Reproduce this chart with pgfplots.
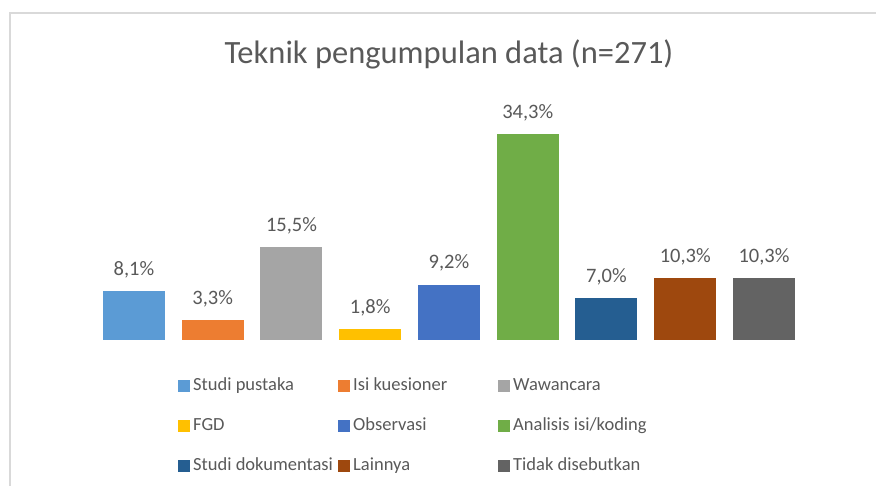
\documentclass[border=0pt]{standalone}
\usepackage{pgfplots}
\pgfplotsset{compat=1.18}
\usepackage{fontspec}
\setmainfont{Carlito}
\definecolor{c1}{HTML}{5B9BD5}
\definecolor{c2}{HTML}{ED7D31}
\definecolor{c3}{HTML}{A5A5A5}
\definecolor{c4}{HTML}{FFC000}
\definecolor{c5}{HTML}{4472C4}
\definecolor{c6}{HTML}{70AD47}
\definecolor{c7}{HTML}{255E91}
\definecolor{c8}{HTML}{9E480E}
\definecolor{c9}{HTML}{636363}
\definecolor{txt}{HTML}{595959}
\definecolor{framec}{HTML}{D9D9D9}
\pgfplotsset{
  sq/.style={fill=#1, draw=none, bar shift=0pt,
    legend image code/.code={\fill[##1] (0pt,-6pt) rectangle (12pt,6pt);}},
}
\newcommand{\lgt}[1]{\makebox[145pt][l]{#1}}
\begin{document}
\begin{tikzpicture}
\useasboundingbox (-94.6pt,-145pt) rectangle (781.4pt,340pt);
\draw[framec, line width=1.3pt] (-84.6pt,-200pt) -- (-84.6pt,327pt) -- (900pt,327pt);
\begin{axis}[
  at={(0pt,0pt)}, anchor=south west,
  x=78.75pt, y=6pt,
  xmin=-0.5, xmax=8.5, ymin=0, ymax=38,
  hide axis, clip=false,
  ybar, bar width=62pt,
  title={Teknik pengumpulan data (n=271)},
  title style={font=\fontsize{32.5pt}{36pt}\selectfont, text=txt, anchor=base, at={(0.5,1)}, yshift=42pt, inner sep=0pt},
  nodes near coords={\pgfmathprintnumber[fixed,fixed zerofill,precision=1,use comma,assume math mode=true]{\pgfplotspointmeta}\%},
  every node near coord/.append style={font=\fontsize{20.5pt}{24pt}\selectfont, text=txt, anchor=base, inner sep=0pt, yshift=16pt},
  legend columns=3,
  legend cell align=left,
  legend style={at={(0.1177,-0.161)}, anchor=north west, draw=none, fill=none, inner sep=0pt,
    font=\fontsize{18.5pt}{22pt}\selectfont, text=txt, row sep=21pt,
    nodes={inner sep=0pt, text height=14pt, text depth=5pt},
    /tikz/every odd column/.style={column sep=3pt}},
]
\addplot[sq=c1] coordinates {(0,8.1)};
\addlegendentry{\lgt{Studi pustaka}}
\addplot[sq=c2] coordinates {(1,3.3)};
\addlegendentry{\lgt{Isi kuesioner}}
\addplot[sq=c3] coordinates {(2,15.5)};
\addlegendentry{\lgt{Wawancara}}
\addplot[sq=c4] coordinates {(3,1.8)};
\addlegendentry{\lgt{FGD}}
\addplot[sq=c5] coordinates {(4,9.2)};
\addlegendentry{\lgt{Observasi}}
\addplot[sq=c6] coordinates {(5,34.3)};
\addlegendentry{\lgt{Analisis isi/koding}}
\addplot[sq=c7] coordinates {(6,7.0)};
\addlegendentry{\lgt{Studi dokumentasi}}
\addplot[sq=c8] coordinates {(7,10.3)};
\addlegendentry{\lgt{Lainnya}}
\addplot[sq=c9] coordinates {(8,10.3)};
\addlegendentry{\lgt{Tidak disebutkan}}
\end{axis}
\end{tikzpicture}
\end{document}
